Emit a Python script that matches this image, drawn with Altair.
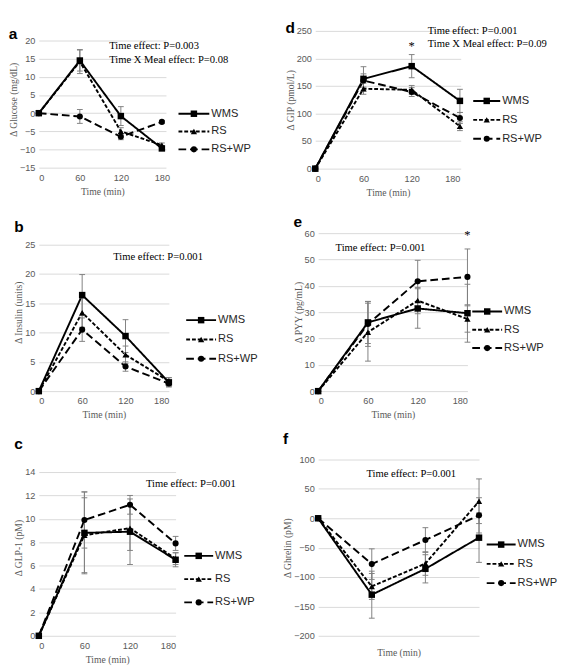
import altair as alt
import pandas as pd

SERIES = ["WMS", "RS", "RS+WP"]
TIMES = [0, 60, 120, 180]

# Panel a: glucose
glu_wms = [0, 14.5, -0.8, -9.7]
glu_rs = [0, 14.2, -5.0, -8.8]
glu_rswp = [0, -0.9, -6.5, -2.4]
glu_wms_err = [0, 2.9, 2.6, 0.6]
glu_rs_err = [0, 3.3, 1.0, 0.6]
glu_rswp_err = [0, 1.9, 0.8, 0.4]
glu_ticks = [-15, -10, -5, 0, 5, 10, 15, 20]

# Panel b: insulin
ins_wms = [0, 16.4, 9.4, 1.5]
ins_rs = [0, 13.4, 6.2, 1.7]
ins_rswp = [0, 10.5, 4.2, 1.3]
ins_wms_err = [0, 3.5, 2.8, 0.8]
ins_rs_err = [0, 2.5, 1.5, 0.6]
ins_rswp_err = [0, 2.0, 0.8, 0.5]
ins_ticks = [0, 5, 10, 15, 20, 25]

# Panel c: GLP-1
glp_wms = [0, 8.8, 8.9, 6.5]
glp_rs = [0, 8.6, 9.2, 6.6]
glp_rswp = [0, 9.9, 11.2, 7.9]
glp_wms_err = [0, 3.5, 2.8, 0.6]
glp_rs_err = [0, 3.2, 1.9, 0.5]
glp_rswp_err = [0, 2.4, 0.8, 0.6]
glp_ticks = [0, 2, 4, 6, 8, 10, 12, 14]

# Panel d: GIP
gip_wms = [0, 163, 186, 123]
gip_rs = [0, 145, 143, 77]
gip_rswp = [0, 160, 139, 92]
gip_wms_err = [0, 22, 21, 21]
gip_rs_err = [0, 10, 8, 8]
gip_rswp_err = [0, 12, 8, 10]
gip_ticks = [0, 50, 100, 150, 200, 250]

# Panel e: PYY
pyy_wms = [0, 26.1, 31.4, 29.6]
pyy_rs = [0, 22.4, 34.4, 27.4]
pyy_rswp = [0, 25.5, 41.7, 43.4]
pyy_wms_err = [0, 8.0, 7.5, 11.0]
pyy_rs_err = [0, 11.0, 5.0, 5.0]
pyy_rswp_err = [0, 8.5, 8.0, 10.6]
pyy_ticks = [0, 10, 20, 30, 40, 50, 60]

# Panel f: ghrelin
ghr_wms = [0, -130, -86, -33]
ghr_rs = [0, -116, -77, 29]
ghr_rswp = [0, -78, -37, 5]
ghr_wms_err = [0, 40, 24, 42]
ghr_rs_err = [0, 22, 20, 38]
ghr_rswp_err = [0, 26, 21, 30]
ghr_ticks = [-200, -150, -100, -50, 0, 50, 100]

# annotations
ann_a = ["Time effect: P=0.003", "Time X Meal effect: P=0.08"]
ann_d = ["Time effect: P=0.001", "Time X Meal effect: P=0.09"]
ann_b = ["Time effect: P=0.001"]
ann_e = ["Time effect: P=0.001"]
ann_c = ["Time effect: P=0.001"]
ann_f = ["Time effect: P=0.001"]

SANS = "Liberation Sans"
SERIF = "Liberation Serif"
GRAY = "#7f7f7f"
DASHES = [[1, 0], [4, 2], [8, 4]]
SHAPES = ["square", "triangle-up", "circle"]
SIZES = [45, 40, 40]

LEG_DF = pd.DataFrame([{"series": s, "pos": p} for s in SERIES for p in [0, 0.5, 1]])


def long_df(means, errs):
    rows = []
    for s, m, e in zip(SERIES, means, errs):
        for t, v, ee in zip(TIMES, m, e):
            rows.append(dict(series=s, time=t, value=v, err=ee, lo=v - ee, hi=v + ee))
    return pd.DataFrame(rows)


def panel(letter, ytitle, means, errs, ydom, yticks, xmax, w, h, texts, ann_x, ann_y,
          star, leg_x, leg_y, title_off, show_xlabels=True, xtitle_pad=5):
    df = long_df(means, errs)
    ann = pd.DataFrame({"text": texts, "x": [ann_x] * len(texts), "y": ann_y})
    xs = alt.Scale(domain=[0, xmax], nice=False, zero=False)
    ys = alt.Scale(domain=ydom, nice=False, zero=False)
    xaxis = alt.Axis(values=TIMES, labels=show_xlabels, grid=False, domain=False, ticks=False,
                     labelPadding=5, titlePadding=xtitle_pad, format="d")
    yaxis = alt.Axis(values=yticks, grid=True, domain=False, ticks=False, labelPadding=4,
                     titlePadding=1, format="d")

    def X(f):
        return alt.X(f, scale=xs, axis=xaxis, title="Time (min)")

    def Y(f):
        return alt.Y(f, scale=ys, axis=yaxis, title=ytitle)

    dash = alt.StrokeDash("series:N", scale=alt.Scale(domain=SERIES, range=DASHES), legend=None)
    shape = alt.Shape("series:N", scale=alt.Scale(domain=SERIES, range=SHAPES), legend=None)
    size = alt.Size("series:N", scale=alt.Scale(domain=SERIES, range=SIZES), legend=None)

    base = alt.Chart(df)
    lines = base.mark_line(color="black", strokeWidth=2).encode(X("time:Q"), Y("value:Q"), dash, detail="series:N")
    errd = base.transform_filter("datum.err > 0")
    rules = errd.mark_rule(color=GRAY, strokeWidth=1).encode(X("time:Q"), Y("lo:Q"), y2="hi:Q")
    cap_lo = errd.mark_tick(orient="horizontal", size=6, thickness=1, color=GRAY, opacity=1).encode(X("time:Q"), Y("lo:Q"))
    cap_hi = errd.mark_tick(orient="horizontal", size=6, thickness=1, color=GRAY, opacity=1).encode(X("time:Q"), Y("hi:Q"))
    pts = base.mark_point(filled=True, color="black", opacity=1).encode(X("time:Q"), Y("value:Q"), shape, size)
    txt = alt.Chart(ann).mark_text(align="left", baseline="middle", font=SERIF, fontSize=11, color="black").encode(
        X("x:Q"), Y("y:Q"), text="text:N")
    layers = [lines, rules, cap_lo, cap_hi, pts, txt]
    if star is not None:
        sdf = pd.DataFrame({"text": ["*"], "x": [star[0]], "y": [star[1]]})
        layers.append(alt.Chart(sdf).mark_text(align="center", baseline="middle", font=SERIF, fontSize=13, color="black").encode(
            X("x:Q"), Y("y:Q"), text="text:N"))
    main = alt.layer(*layers)

    lg = alt.Chart(LEG_DF)
    LX = alt.X("pos:Q", scale=alt.Scale(domain=[0, 1], range=leg_x, nice=False, zero=False), axis=None)
    LY = alt.Y("series:N", scale=alt.Scale(type="point", domain=SERIES, range=leg_y, padding=0), axis=None)
    leg_line = lg.mark_line(color="black", strokeWidth=2).encode(LX, LY, dash, detail="series:N")
    leg_pt = lg.transform_filter("datum.pos == 0.5").mark_point(filled=True, color="black", opacity=1).encode(LX, LY, shape, size)
    leg_txt = lg.transform_filter("datum.pos == 1").mark_text(align="left", dx=2, baseline="middle", font=SANS,
                                                               fontSize=11.5, color="#262626").encode(LX, LY, text="series:N")
    legend = alt.layer(leg_line, leg_pt, leg_txt)

    return alt.layer(main, legend).resolve_scale(x="independent", y="independent").properties(
        width=w, height=h,
        title=alt.TitleParams(letter, anchor="start", frame="bounds", fontSize=16, font=SANS,
                              fontWeight="bold", offset=title_off, color="black"))


pa = panel("a", "Δ Glucose (mg/dL)", [glu_wms, glu_rs, glu_rswp], [glu_wms_err, glu_rs_err, glu_rswp_err],
           [-15, 22.65], glu_ticks, 186, 132, 142, ann_a, 103, [18.4, 14.6], None,
           [145, 177], [86, 123], -11)
pd_ = panel("d", "Δ GIP (pmol/L)", [gip_wms, gip_rs, gip_rswp], [gip_wms_err, gip_rs_err, gip_rswp_err],
            [0, 250], gip_ticks, 181, 151, 143, ann_d, 140, [249.5, 226.8], (120, 222),
            [164, 192], [72.7, 112], -11)
pb = panel("b", "Δ Insulin (units)", [ins_wms, ins_rs, ins_rswp], [ins_wms_err, ins_rs_err, ins_rswp_err],
           [0, 26.97], ins_ticks, 180, 135, 164, ann_b, 103, [22.8], None,
           [153, 184], [90.3, 130.3], -2)
pe = panel("e", "Δ PYY (pg/mL)", [pyy_wms, pyy_rs, pyy_rswp], [pyy_wms_err, pyy_rs_err, pyy_rswp_err],
           [0, 60], pyy_ticks, 180, 155, 164, ann_e, 21, [54.4], (180, 59.3),
           [160, 191], [81.3, 119.3], -2)
pc = panel("c", "Δ GLP-1 (pM)", [glp_wms, glp_rs, glp_rswp], [glp_wms_err, glp_rs_err, glp_rswp_err],
           [0, 15.07], glp_ticks, 180, 142, 183, ann_c, 141, [13.0], None,
           [151, 181], [100, 148.3], 8)
pf = panel("f", "Δ Ghrelin (pM)", [ghr_wms, ghr_rs, ghr_rswp], [ghr_wms_err, ghr_rs_err, ghr_rswp_err],
           [-200, 100], ghr_ticks, 180, 167, 183, ann_f, 54, [74.9], None,
           [175, 205], [88.3, 128.3], 8, show_xlabels=False, xtitle_pad=12)

row1 = alt.hconcat(pa, pd_, spacing=35)
row2 = alt.hconcat(pb, pe, spacing=36)
row3 = alt.hconcat(pc, pf, spacing=28)

chart = alt.vconcat(row1, alt.vconcat(row2, row3, spacing=12), spacing=18).properties(
    padding=0
).configure_view(stroke=None).configure_axis(
    labelFont=SANS, labelFontSize=9.5, labelColor="#595959",
    titleFont=SERIF, titleFontSize=10, titleColor="#595959", titleFontWeight="normal",
    gridColor="#d9d9d9", gridWidth=1
)

chart.save("out.html", embed_options={"renderer": "svg", "actions": False})
